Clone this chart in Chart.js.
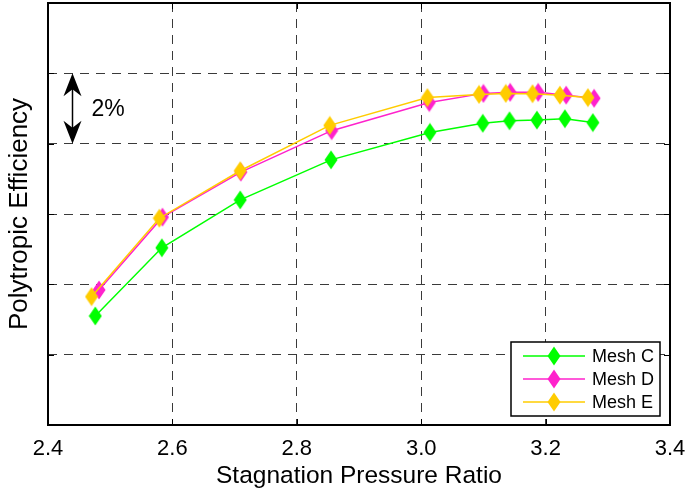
<!DOCTYPE html>
<html>
<head>
<meta charset="utf-8">
<script src="https://cdn.jsdelivr.net/npm/chart.js@4/dist/chart.umd.min.js"></script>
<style>
    html, body { margin: 0; padding: 0; background: #fff; }
    #wrap { width: 688px; height: 488px; }
</style>
</head>
<body>
<div id="wrap"><canvas id="chartEff" width="688" height="488"></canvas></div>
<script>
//==========Data===========
const xTicks = [2.4, 2.6, 2.8, 3.0, 3.2, 3.4];
const xTickLabels = ['2.4', '2.6', '2.8', '3.0', '3.2', '3.4'];
const seriesNames = ['Mesh C', 'Mesh D', 'Mesh E'];
const seriesColors = ['#00ff00', '#ff22cc', '#ffcc00'];
const meshCx = [2.476, 2.583, 2.709, 2.855, 3.014, 3.099, 3.142, 3.186, 3.231, 3.276];
const meshCy = [83.10, 85.04, 86.40, 87.54, 88.32, 88.58, 88.65, 88.67, 88.71, 88.60];
const meshDx = [2.482, 2.584, 2.710, 2.856, 3.013, 3.100, 3.143, 3.188, 3.233, 3.278];
const meshDy = [83.84, 85.91, 87.19, 88.37, 89.17, 89.43, 89.46, 89.46, 89.38, 89.29];
const meshEx = [2.470, 2.579, 2.709, 2.853, 3.010, 3.093, 3.136, 3.179, 3.223, 3.268];
const meshEy = [83.65, 85.88, 87.23, 88.52, 89.31, 89.40, 89.43, 89.42, 89.38, 89.31];
const yMin = 80, yMax = 92, yStep = 2;
const bracketFrom = 88, bracketTo = 90, bracketText = '2%';

const fontFamily = "'Liberation Sans', Arial, Helvetica, sans-serif";

function toPoints(xs, ys) {
    return xs.map(function (x, i) { return { x: x, y: ys[i] }; });
}

//==========Diamond marker (taller than wide)===========
function makeDiamond(color) {
    let c = document.createElement('canvas');
    c.width = 14;
    c.height = 20;
    let g = c.getContext('2d');
    g.fillStyle = color;
    g.beginPath();
    g.moveTo(7, 0.5);
    g.lineTo(13.5, 10);
    g.lineTo(7, 19.5);
    g.lineTo(0.5, 10);
    g.closePath();
    g.fill();
    return c;
}
const markers = seriesColors.map(makeDiamond);

//==========Plugins===========
const framePlugin = {
    id: 'frame',
    afterDatasetsDraw: function (chart) {
        const ctx = chart.ctx;
        const a = chart.chartArea;
        const xs = chart.scales.x, ys = chart.scales.y;
        ctx.save();
        ctx.strokeStyle = '#000';
        ctx.lineWidth = 1;
        // inward ticks
        ctx.beginPath();
        xTicks.forEach(function (v) {
            let px = Math.round(xs.getPixelForValue(v)) + 0.5;
            ctx.moveTo(px, a.bottom); ctx.lineTo(px, a.bottom - 6);
            ctx.moveTo(px, a.top); ctx.lineTo(px, a.top + 6);
        });
        for (let v = yMin; v <= yMax; v += yStep) {
            let py = Math.round(ys.getPixelForValue(v)) + 0.5;
            ctx.moveTo(a.left, py); ctx.lineTo(a.left + 6, py);
            ctx.moveTo(a.right, py); ctx.lineTo(a.right - 6, py);
        }
        ctx.stroke();
        ctx.lineWidth = 2;
        ctx.strokeRect(a.left, a.top, a.right - a.left, a.bottom - a.top);
        // tick labels (drawn here so they do not add auto padding)
        ctx.fillStyle = '#000';
        ctx.font = '22px ' + fontFamily;
        ctx.textAlign = 'center';
        ctx.textBaseline = 'alphabetic';
        xTicks.forEach(function (v, i) {
            ctx.fillText(xTickLabels[i], xs.getPixelForValue(v), a.bottom + 30);
        });
        ctx.restore();
    }
};

const bracketPlugin = {
    id: 'bracket',
    afterDatasetsDraw: function (chart) {
        const ctx = chart.ctx;
        const a = chart.chartArea;
        const ys = chart.scales.y;
        const x = a.left + 24.5;
        const y1 = ys.getPixelForValue(bracketTo);
        const y2 = ys.getPixelForValue(bracketFrom);
        ctx.save();
        ctx.strokeStyle = '#000';
        ctx.fillStyle = '#000';
        ctx.lineWidth = 1.5;
        ctx.beginPath();
        ctx.moveTo(x, y1 + 10);
        ctx.lineTo(x, y2 - 10);
        ctx.stroke();
        drawHead(ctx, x, y1, 1);
        drawHead(ctx, x, y2, -1);
        ctx.font = '23px ' + fontFamily;
        ctx.textBaseline = 'middle';
        ctx.textAlign = 'left';
        ctx.fillText(bracketText, x + 19, (y1 + y2) / 2 + 1);
        ctx.restore();
    }
};

function drawHead(ctx, x, tipY, dir) {
    ctx.beginPath();
    ctx.moveTo(x, tipY);
    ctx.lineTo(x + 9, tipY + dir * 23);
    ctx.lineTo(x, tipY + dir * 16);
    ctx.lineTo(x - 9, tipY + dir * 23);
    ctx.closePath();
    ctx.fill();
}

const legendPlugin = {
    id: 'boxLegend',
    afterDraw: function (chart) {
        const ctx = chart.ctx;
        const a = chart.chartArea;
        const w = 149, h = 74;
        const left = a.right - 10 - w;
        const top = a.bottom - 9 - h;
        ctx.save();
        ctx.fillStyle = '#fff';
        ctx.fillRect(left, top, w, h);
        ctx.strokeStyle = '#000';
        ctx.lineWidth = 1.5;
        ctx.strokeRect(left, top, w, h);
        ctx.font = '18px ' + fontFamily;
        ctx.textBaseline = 'middle';
        ctx.textAlign = 'left';
        chart.data.datasets.forEach(function (ds, i) {
            let cy = top + 14 + i * 23;
            ctx.strokeStyle = ds.borderColor;
            ctx.lineWidth = 1.5;
            ctx.beginPath();
            ctx.moveTo(left + 12, cy);
            ctx.lineTo(left + 74, cy);
            ctx.stroke();
            ctx.drawImage(ds.pointStyle, left + 43 - 7, cy - 10);
            ctx.fillStyle = '#000';
            ctx.fillText(ds.label, left + 81, cy + 1);
        });
        ctx.restore();
    }
};

//==========Chart===========
function buildDataset(i, xs, ys, order) {
    return {
        label: seriesNames[i],
        data: toPoints(xs, ys),
        borderColor: seriesColors[i],
        backgroundColor: seriesColors[i],
        borderWidth: 1.5,
        pointStyle: markers[i],
        pointRadius: 10,
        tension: 0,
        order: order
    };
}

const ctx = document.getElementById('chartEff');
new Chart(ctx, {
    type: 'line',
    data: {
        datasets: [
            buildDataset(0, meshCx, meshCy, 2),
            buildDataset(1, meshDx, meshDy, 1),
            buildDataset(2, meshEx, meshEy, 0)
        ]
    },
    options: {
        responsive: false,
        animation: false,
        layout: { autoPadding: false, padding: { top: 3, right: 18, left: 0, bottom: 0 } },
        plugins: {
            legend: { display: false },
            tooltip: { enabled: false }
        },
        scales: {
            x: {
                type: 'linear',
                min: 2.4,
                max: 3.4,
                afterBuildTicks: function (scale) {
                    scale.ticks = xTicks.map(function (v) { return { value: v }; });
                },
                afterFit: function (scale) { scale.height = 63; },
                grid: { color: '#3a3a3a', lineWidth: 1, drawTicks: false },
                border: { display: false, dash: [9, 7] },
                ticks: { display: false },
                title: {
                    display: true,
                    text: 'Stagnation Pressure Ratio',
                    color: '#000',
                    padding: { top: 0, bottom: 0 },
                    font: { family: fontFamily, size: 24.5, lineHeight: 1 }
                }
            },
            y: {
                min: yMin,
                max: yMax,
                afterFit: function (scale) { scale.width = 48; },
                grid: { color: '#3a3a3a', lineWidth: 1, drawTicks: false },
                border: { display: false, dash: [9, 7] },
                ticks: { display: false, stepSize: yStep },
                title: {
                    display: true,
                    text: 'Polytropic Efficiency',
                    color: '#000',
                    padding: { top: 7, bottom: 0 },
                    font: { family: fontFamily, size: 26, lineHeight: 1 }
                }
            }
        }
    },
    plugins: [framePlugin, bracketPlugin, legendPlugin]
});
</script>
</body>
</html>
